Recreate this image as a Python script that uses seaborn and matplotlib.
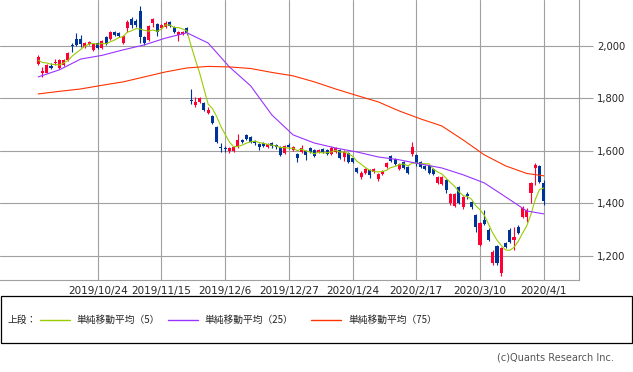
import numpy as np
import pandas as pd
import matplotlib
matplotlib.use("Agg")
import matplotlib.pyplot as plt
import seaborn as sns
from matplotlib.lines import Line2D
from matplotlib.patches import Rectangle
from matplotlib.ticker import FuncFormatter

# daily candles, 120 trading days (2019/10/3 .. 2020/4/1)
opens = [1931, 1897, 1897, 1924, 1935, 1916, 1928, 1947, 2004, 2027,
         2027, 1996, 2008, 1985, 2011, 1992, 2034, 2027, 2053, 2050,
         2011, 2069, 2103, 2095, 2133, 2034, 2023, 2088, 2084, 2069,
         2072, 2091, 2072, 2042, 2046, 2069, 1794, 1775, 1787, 1783,
         1745, 1733, 1691, 1615, 1611, 1599, 1599, 1615, 1642, 1661,
         1653, 1638, 1626, 1630, 1615, 1630, 1623, 1615, 1592, 1623,
         1604, 1588, 1596, 1600, 1611, 1604, 1596, 1607, 1604, 1588,
         1596, 1604, 1577, 1592, 1573, 1535, 1501, 1516, 1528, 1520,
         1493, 1512, 1539, 1581, 1569, 1531, 1558, 1539, 1588, 1585,
         1558, 1543, 1543, 1531, 1478, 1474, 1489, 1402, 1390, 1463,
         1387, 1436, 1406, 1356, 1242, 1337, 1299, 1173, 1238, 1135,
         1250, 1299, 1261, 1310, 1349, 1349, 1440, 1535, 1543, 1478]
highs = [1966, 1920, 1931, 1935, 1950, 1950, 1950, 1977, 2011, 2050,
         2042, 2015, 2019, 2011, 2015, 2023, 2038, 2057, 2057, 2053,
         2042, 2099, 2110, 2103, 2152, 2038, 2080, 2107, 2088, 2084,
         2095, 2095, 2076, 2057, 2057, 2072, 1836, 1806, 1806, 1787,
         1768, 1737, 1695, 1630, 1619, 1615, 1619, 1665, 1646, 1665,
         1657, 1642, 1630, 1634, 1630, 1634, 1626, 1619, 1623, 1630,
         1619, 1592, 1623, 1604, 1615, 1607, 1607, 1611, 1607, 1619,
         1615, 1607, 1604, 1596, 1577, 1539, 1524, 1535, 1531, 1535,
         1516, 1528, 1558, 1585, 1573, 1554, 1562, 1543, 1634, 1589,
         1562, 1547, 1547, 1535, 1505, 1505, 1493, 1440, 1440, 1467,
         1429, 1444, 1410, 1360, 1330, 1375, 1307, 1223, 1242, 1234,
         1253, 1307, 1310, 1318, 1390, 1383, 1482, 1554, 1547, 1490]
lows = [1928, 1882, 1895, 1912, 1928, 1912, 1924, 1943, 1977, 2000,
        1996, 1992, 2004, 1981, 1988, 1988, 2004, 2023, 2038, 2034,
        2008, 2053, 2069, 2072, 2011, 2004, 2019, 2072, 2038, 2065,
        2069, 2072, 2050, 2019, 2042, 2042, 1779, 1768, 1783, 1752,
        1741, 1703, 1630, 1596, 1596, 1592, 1596, 1611, 1630, 1642,
        1630, 1623, 1604, 1615, 1611, 1611, 1607, 1581, 1588, 1607,
        1600, 1558, 1592, 1566, 1592, 1577, 1592, 1592, 1584, 1584,
        1592, 1569, 1562, 1554, 1554, 1516, 1493, 1512, 1497, 1516,
        1486, 1509, 1535, 1558, 1547, 1528, 1531, 1512, 1581, 1543,
        1535, 1528, 1512, 1509, 1474, 1470, 1440, 1394, 1386, 1398,
        1379, 1417, 1379, 1291, 1238, 1318, 1257, 1165, 1166, 1124,
        1230, 1250, 1223, 1284, 1345, 1330, 1402, 1470, 1478, 1394]
closes = [1958, 1905, 1928, 1916, 1939, 1947, 1947, 1973, 2000, 2004,
          2008, 2011, 2015, 2008, 1992, 2019, 2008, 2053, 2042, 2038,
          2038, 2091, 2080, 2080, 2034, 2011, 2076, 2103, 2053, 2080,
          2088, 2076, 2053, 2053, 2053, 2050, 1790, 1787, 1802, 1756,
          1756, 1707, 1634, 1611, 1607, 1611, 1615, 1642, 1634, 1646,
          1634, 1630, 1615, 1619, 1626, 1619, 1615, 1584, 1619, 1615,
          1615, 1573, 1611, 1584, 1596, 1581, 1604, 1596, 1588, 1611,
          1611, 1573, 1596, 1558, 1558, 1520, 1516, 1531, 1509, 1531,
          1512, 1524, 1554, 1562, 1550, 1550, 1535, 1516, 1615, 1554,
          1539, 1531, 1516, 1512, 1501, 1501, 1451, 1436, 1436, 1402,
          1425, 1429, 1387, 1311, 1326, 1322, 1261, 1215, 1173, 1230,
          1234, 1253, 1272, 1288, 1383, 1375, 1478, 1547, 1482, 1410]
# closes of the 4 days before the first candle (for the 5-day average)
pre_closes = [1950, 1935, 1940, 1945]

# 25 / 75 day averages read every 5 days
ma_idx = list(range(0, 120, 5)) + [119]
ma25 = [1882, 1909, 1950, 1964, 1985, 2004, 2030, 2050, 2011, 1920,
        1848, 1737, 1661, 1630, 1611, 1596, 1577, 1566, 1550, 1535,
        1509, 1478, 1425, 1371, 1360]
ma75 = [1817, 1827, 1836, 1850, 1863, 1882, 1901, 1916, 1922, 1920,
        1914, 1899, 1886, 1863, 1836, 1811, 1787, 1752, 1722, 1695,
        1642, 1585, 1543, 1514, 1505]

tick_pos = [14, 29, 44, 59, 74, 89, 104, 119]
tick_labels = ['2019/10/24', '2019/11/15', '2019/12/6', '2019/12/27',
               '2020/1/24', '2020/2/17', '2020/3/10', '2020/4/1']
y_ticks = [1200, 1400, 1600, 1800, 2000]

UP = '#ff0033'
DOWN = '#003399'
C5 = '#99cc00'
C25 = '#9933ff'
C75 = '#ff3300'
GRID = '#a0a0a0'
JP = ['Noto Sans CJK JP', 'DejaVu Sans']

sns.set_style('white')
plt.rcParams['font.family'] = ['DejaVu Sans', 'Noto Sans CJK JP']

df = pd.DataFrame({'open': opens, 'high': highs, 'low': lows, 'close': closes})
df['x'] = np.arange(len(df))
all_close = pd.Series(pre_closes + closes)
df['ma5'] = all_close.rolling(5).mean().iloc[len(pre_closes):].values
df['up'] = df['close'] >= df['open']
df['color'] = np.where(df['up'], UP, DOWN)
df['bot'] = df[['open', 'close']].min(axis=1)
df['h'] = (df['close'] - df['open']).abs().clip(lower=3)

fig = plt.figure(figsize=(6.33, 3.72), dpi=100)
ax = fig.add_axes([0, 1 - 280 / 372, 579 / 633, 280 / 372])

ax.vlines(df['x'], df['low'], df['high'], colors=df['color'], lw=0.8, zorder=2)
ax.bar(df['x'], df['h'], bottom=df['bot'], width=0.72, color=df['color'],
       linewidth=0, zorder=3)

sns.lineplot(x=df['x'], y=df['ma5'], ax=ax, color=C5, lw=0.8, zorder=4)
sns.lineplot(x=ma_idx, y=ma25, ax=ax, color=C25, lw=0.8, zorder=4)
sns.lineplot(x=ma_idx, y=ma75, ax=ax, color=C75, lw=0.8, zorder=4)

ax.set_xlim(-9, 127.3)
ax.set_ylim(1108, 2175)
ax.set_xticks(tick_pos)
ax.set_xticklabels(tick_labels, fontsize=7.5)
ax.set_yticks(y_ticks)
ax.yaxis.tick_right()
ax.yaxis.set_major_formatter(FuncFormatter(lambda v, p: f'{int(v):,}'))
ax.tick_params(axis='y', length=10, width=0.8, color=GRID, pad=3, labelsize=7.2)
ax.tick_params(axis='x', length=0, pad=4)
ax.set_xlabel('')
ax.set_ylabel('')
ax.grid(True, color=GRID, lw=0.8, zorder=0)
ax.set_axisbelow(True)
for s in ['left', 'top']:
    ax.spines[s].set_visible(False)
for s in ['right', 'bottom']:
    ax.spines[s].set_color(GRID)
    ax.spines[s].set_linewidth(0.8)

# legend box below the chart
W, H = 633.0, 372.0
fig.add_artist(Rectangle((0.5 / W, 1 - 343 / H), 631 / W, 47 / H,
                         transform=fig.transFigure, fill=False,
                         edgecolor='black', lw=0.9))
ly = 1 - 320 / H
fig.text(8 / W, ly, '上段：', fontsize=7, va='center', ha='left', family=JP, color='#222222')
items = [(40, 76, C5, '単純移動平均（5）'),
         (168, 204, C25, '単純移動平均（25）'),
         (311, 348, C75, '単純移動平均（75）')]
for x0, tx, col, lab in items:
    fig.add_artist(Line2D([x0 / W, (x0 + 30) / W], [ly, ly], color=col, lw=1,
                          transform=fig.transFigure))
    fig.text(tx / W, ly, lab, fontsize=7, va='center', ha='left', family=JP, color='#222222')

fig.text(614 / W, 1 - 357 / H, '(c)Quants Research Inc.', fontsize=7,
         ha='right', va='center', color='#555555')

fig.savefig('out.png', dpi=100)
